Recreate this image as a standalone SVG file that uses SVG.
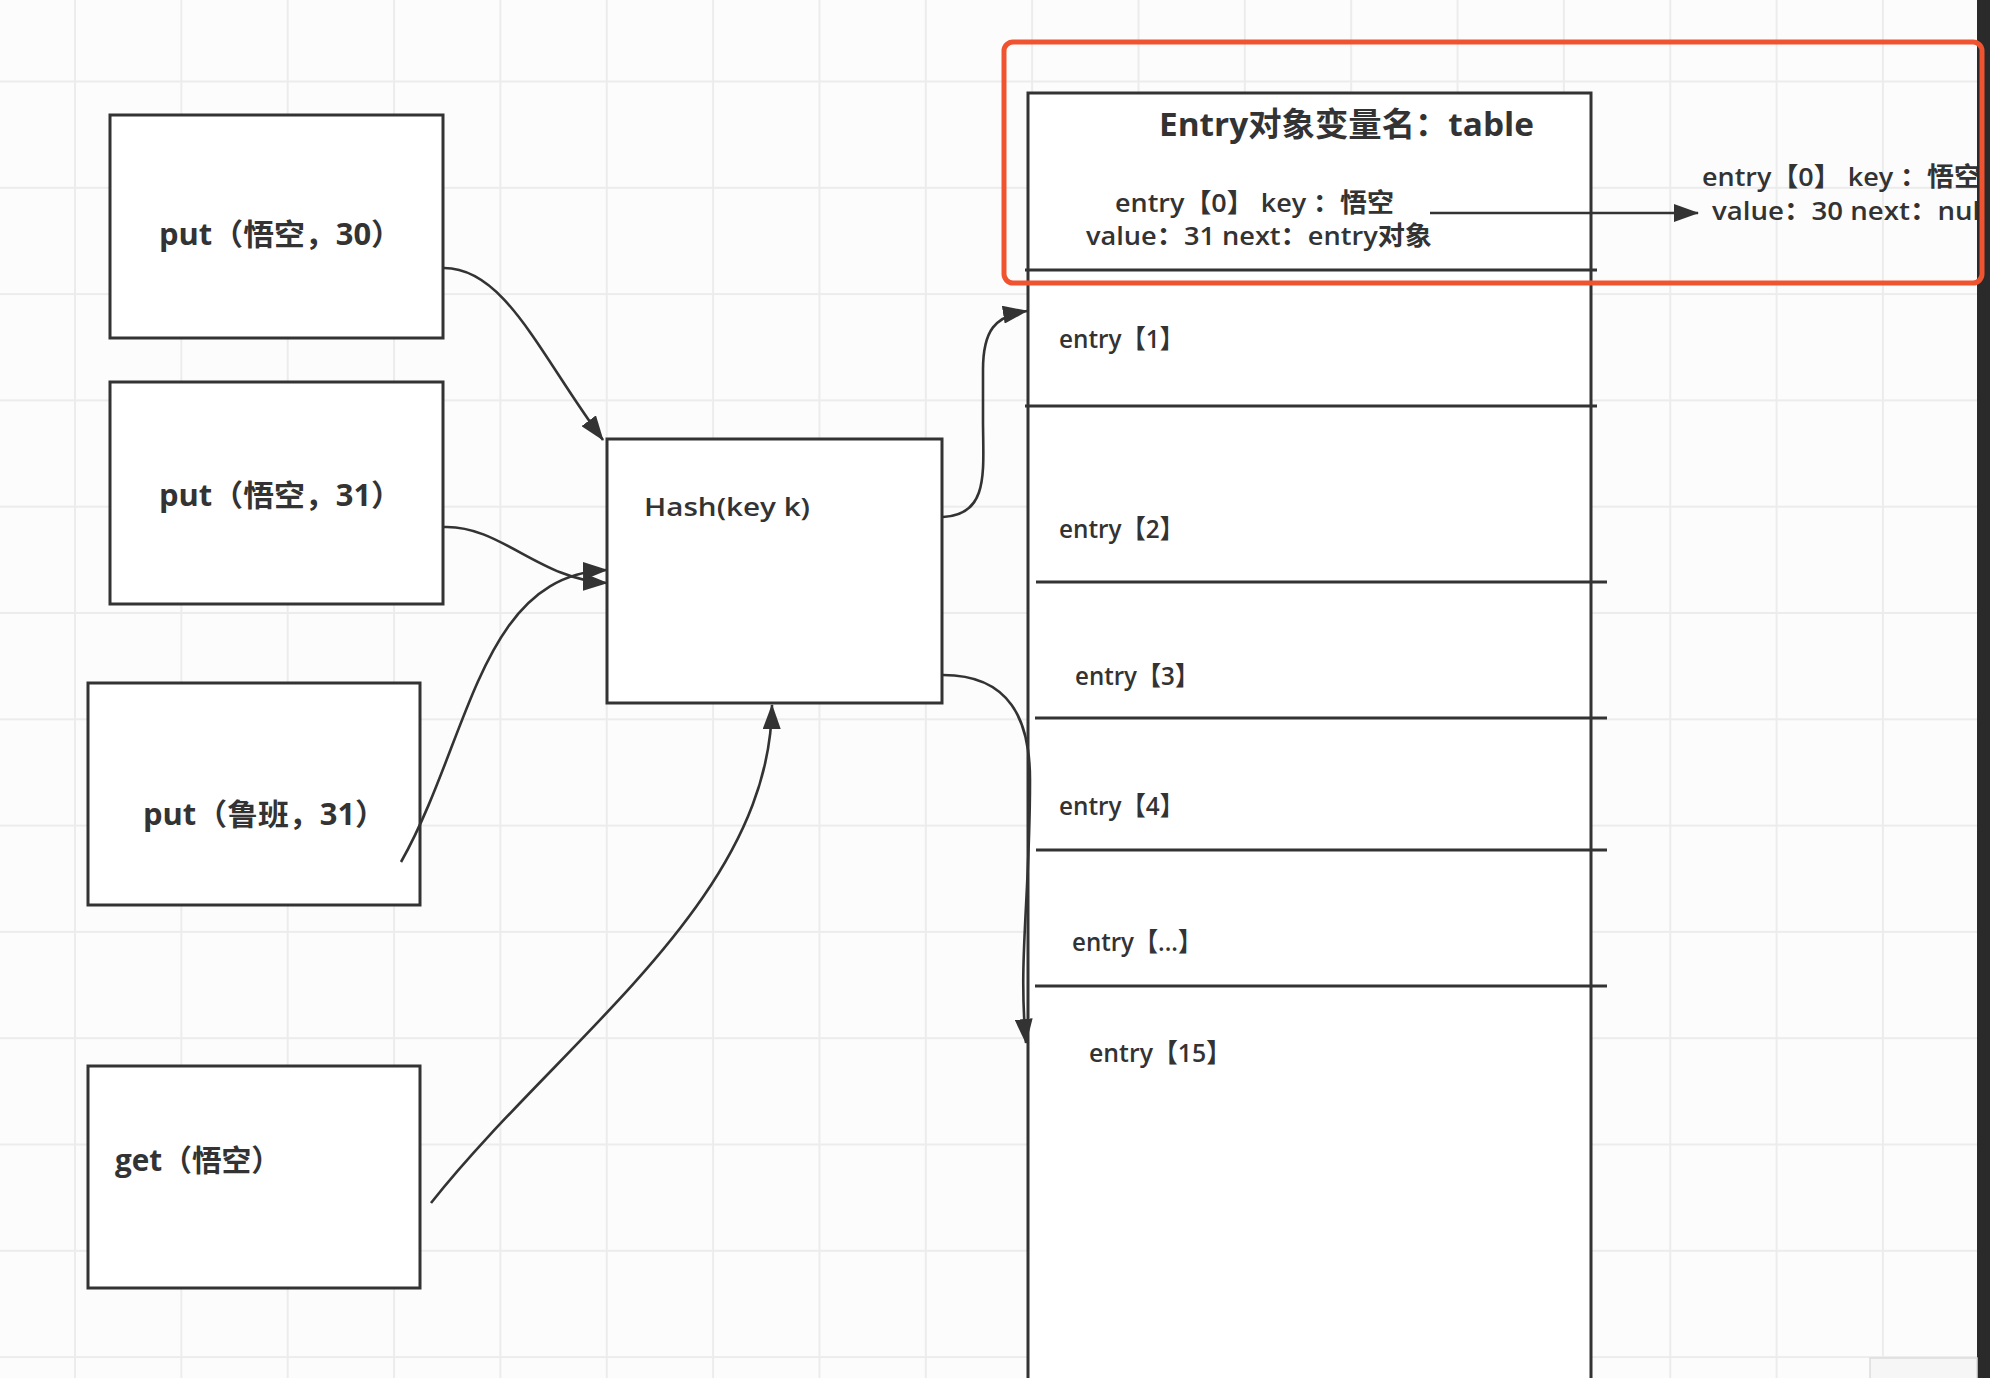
<svg xmlns="http://www.w3.org/2000/svg" width="1990" height="1378" viewBox="0 0 1990 1378">
<defs>
<style>
.box{fill:#ffffff;stroke:#333333;stroke-width:3}
.sep{stroke:#333333;stroke-width:3;fill:none}
.conn{fill:none;stroke:#333333;stroke-width:2.6}
.bt{font-family:"Open Sans","Noto Sans CJK SC",sans-serif;font-weight:bold;font-size:30px;fill:#333333}
.t{font-family:"Open Sans","Noto Sans CJK SC",sans-serif;font-weight:600;font-size:26px;fill:#333333}
</style>
<pattern id="grid" x="74" y="80.5" width="106.35" height="106.3" patternUnits="userSpaceOnUse">
<path d="M1,0 V106.3 M0,1 H106.35" stroke="#ececec" stroke-width="2" fill="none"/>
</pattern>
<marker id="arr" viewBox="0 0 25 18" refX="24" refY="9" markerWidth="25" markerHeight="18" markerUnits="userSpaceOnUse" orient="auto">
<path d="M0,0 L25,9 L0,18 z" fill="#333333"/>
</marker>
<clipPath id="clipR"><rect x="0" y="0" width="1977" height="1378"/></clipPath>
</defs>
<rect x="0" y="0" width="1990" height="1378" fill="#fcfcfc"/>
<rect x="0" y="0" width="1990" height="1378" fill="url(#grid)"/>

<g id="put1">
<rect class="box" x="110" y="115" width="333" height="223"/>
<text class="bt" x="159" y="245" textLength="243" lengthAdjust="spacingAndGlyphs">put（悟空，30）</text>
</g>
<g id="put2">
<rect class="box" x="110" y="382" width="333" height="222"/>
<text class="bt" x="159" y="506" textLength="243" lengthAdjust="spacingAndGlyphs">put（悟空，31）</text>
</g>
<g id="put3">
<rect class="box" x="88" y="683" width="332" height="222"/>
<text class="bt" x="143" y="825" textLength="243" lengthAdjust="spacingAndGlyphs">put（鲁班，31）</text>
</g>
<g id="get">
<rect class="box" x="88" y="1066" width="332" height="222"/>
<text class="bt" x="115" y="1171" textLength="166" lengthAdjust="spacingAndGlyphs">get（悟空）</text>
</g>
<g id="hash">
<rect class="box" x="607" y="439" width="335" height="264"/>
<text class="t" x="644" y="516" textLength="166" lengthAdjust="spacingAndGlyphs">Hash(key k)</text>
</g>

<g id="table">
<rect class="box" x="1028" y="93" width="563" height="1310"/>
<line class="sep" x1="1025" y1="270" x2="1597" y2="270"/>
<line class="sep" x1="1025" y1="406" x2="1597" y2="406"/>
<line class="sep" x1="1036" y1="582" x2="1607" y2="582"/>
<line class="sep" x1="1035" y1="718" x2="1607" y2="718"/>
<line class="sep" x1="1036" y1="850" x2="1607" y2="850"/>
<line class="sep" x1="1035" y1="986" x2="1607" y2="986"/>
<text class="bt" x="1159" y="136" textLength="375" lengthAdjust="spacingAndGlyphs" style="font-size:33px">Entry对象变量名：table</text>
<text class="t" x="1115" y="212" textLength="279" lengthAdjust="spacingAndGlyphs">entry【0】 key ：悟空</text>
<text class="t" x="1086" y="245" textLength="346" lengthAdjust="spacingAndGlyphs">value：31 next：entry对象</text>
<text class="t" x="1059" y="348" textLength="125" lengthAdjust="spacingAndGlyphs">entry【1】</text>
<text class="t" x="1059" y="538" textLength="125" lengthAdjust="spacingAndGlyphs">entry【2】</text>
<text class="t" x="1075" y="685" textLength="124" lengthAdjust="spacingAndGlyphs">entry【3】</text>
<text class="t" x="1059" y="815" textLength="125" lengthAdjust="spacingAndGlyphs">entry【4】</text>
<text class="t" x="1072" y="951" textLength="130" lengthAdjust="spacingAndGlyphs">entry【...】</text>
<text class="t" x="1089" y="1062" textLength="142" lengthAdjust="spacingAndGlyphs">entry【15】</text>
</g>

<g id="next-entry" clip-path="url(#clipR)">
<text class="t" x="1702" y="186" textLength="279" lengthAdjust="spacingAndGlyphs">entry【0】 key ：悟空</text>
<text class="t" x="1712" y="220" textLength="276" lengthAdjust="spacingAndGlyphs">value：30 next：null</text>
</g>

<g id="connectors">
<path class="conn" d="M444,268 C505,268 540,355 603,440" marker-end="url(#arr)"/>
<path class="conn" d="M444,527 C500,525 540,580 607,583" marker-end="url(#arr)"/>
<path class="conn" d="M401,862 C470,740 480,575 607,570" marker-end="url(#arr)"/>
<path class="conn" d="M431,1203 C560,1040 770,900 772,705" marker-end="url(#arr)"/>
<path class="conn" d="M943,517 C990,515 983,470 983,420 L983,370 C983,330 995,316 1027,311" marker-end="url(#arr)"/>
<path class="conn" d="M943,675 C1010,675 1030,720 1030,780 C1030,900 1018,960 1026,1043" marker-end="url(#arr)"/>
<path class="conn" d="M1430,213 L1698,213" marker-end="url(#arr)"/>
</g>

<rect x="1977" y="0" width="13" height="1378" fill="#2a2a2a"/>
<rect x="1870" y="1358" width="107" height="22" fill="#f6f6f6" stroke="#dddddd" stroke-width="1.5"/>
<rect id="highlight" x="1004" y="42" width="978" height="241" rx="9" fill="none" stroke="#ef5330" stroke-width="5"/>
</svg>
